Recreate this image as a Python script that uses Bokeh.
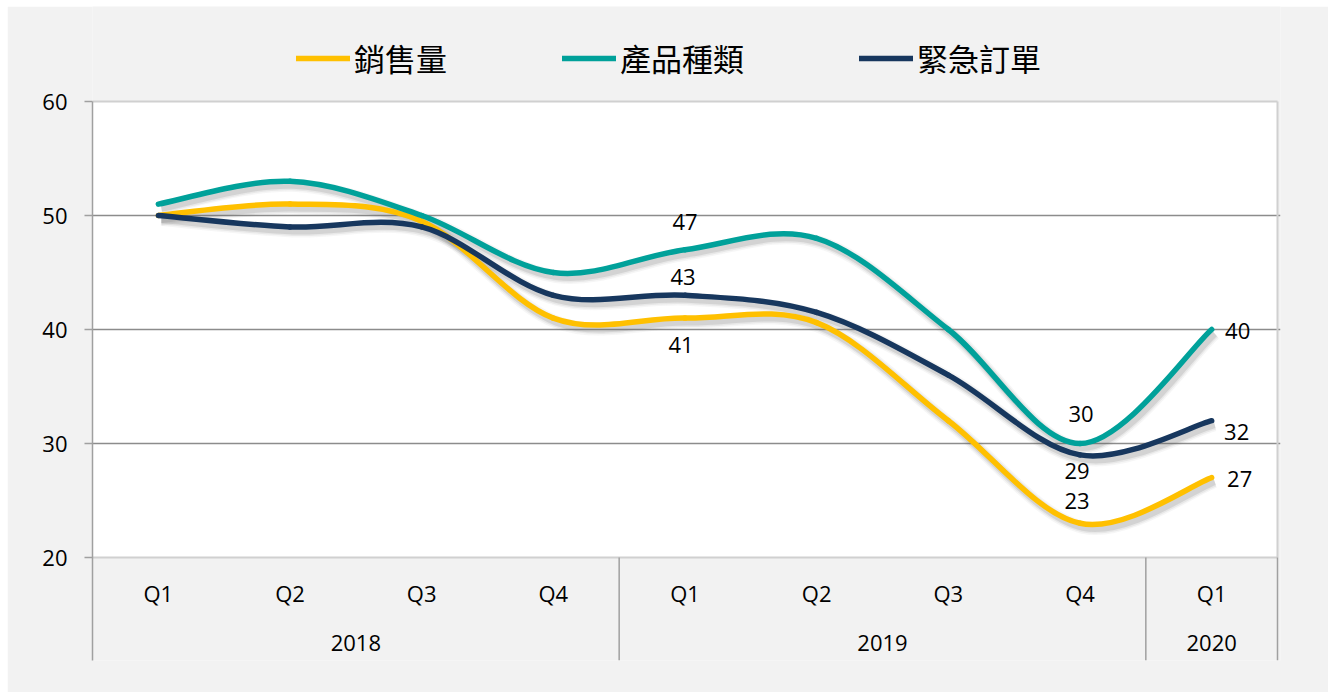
import numpy as np
from bokeh.plotting import figure
from bokeh.models import (Range1d, FixedTicker, ColumnDataSource, Legend, LegendItem,
                          Spacer)
from bokeh.layouts import row, column
from bokeh.core.properties import value
from bokeh.embed import file_html
from bokeh.resources import INLINE

# ---------------- data ----------------
years = ["2018", "2019", "2020"]
year_quarter_counts = [4, 4, 1]
quarters = ["Q1", "Q2", "Q3", "Q4", "Q1", "Q2", "Q3", "Q4", "Q1"]

series_names = ["銷售量", "產品種類", "緊急訂單"]
sales = [50, 51, 49.5, 41, 41, 40.6, 32, 23, 27]
product_types = [51, 53, 50, 45, 47, 48, 40, 30, 40]
urgent_orders = [50, 49, 49, 43, 43, 41.5, 36, 29, 32]

y_ticks = [20, 30, 40, 50, 60]
labelled_points = [4, 7, 8]  # category indices that carry data labels

# ---------------- style ----------------
COLORS = ["#FFC000", "#00A19A", "#17375E"]
FONT = "Open Sans"
CJK = "Noto Sans CJK TC"
BG = "#f2f2f2"

PX_PER_UNIT = 456 / 40.0
Y_MIN, Y_MAX = 20, 60
FIG_W, FIG_H = 1321, 686
BORDER_L, BORDER_R, BORDER_B = 85, 48, 32
frame_h = FIG_H - BORDER_B
y_top = Y_MAX + 95 / PX_PER_UNIT          # room for the legend inside the frame
y_bottom = y_top - frame_h / PX_PER_UNIT
x_right = 8.5 + 3 / (1185 / 9.0)

p = figure(width=FIG_W, height=FIG_H, output_backend="svg", toolbar_location=None,
           x_range=Range1d(-0.5, x_right), y_range=Range1d(y_bottom, y_top),
           x_axis_location=None,
           min_border_left=BORDER_L, min_border_right=BORDER_R, min_border_top=0,
           min_border_bottom=BORDER_B,
           background_fill_color=BG, border_fill_color=BG, outline_line_color=None)

# white plotting area
p.quad(left=-0.5, right=8.5, bottom=Y_MIN, top=Y_MAX, fill_color="white",
       line_color=None, level="image")

# grid
p.xgrid.visible = False
p.ygrid.ticker = FixedTicker(ticks=[t for t in y_ticks if Y_MIN < t < Y_MAX])
p.ygrid.grid_line_color = "#8c8c8c"
p.ygrid.grid_line_width = 1.5

# plot-area border (top, bottom, right)
p.segment(x0=[-0.5, -0.5, 8.5], y0=[Y_MAX, Y_MIN, Y_MIN],
          x1=[8.5, 8.5, 8.5], y1=[Y_MAX, Y_MIN, Y_MAX],
          line_color="#d0d0d0", line_width=2)

# y axis
ax = p.yaxis[0]
ax.bounds = (y_bottom, Y_MAX)
ax.ticker = FixedTicker(ticks=y_ticks)
ax.major_tick_out = 8
ax.major_tick_in = 0
ax.minor_tick_out = 0
ax.minor_tick_in = 0
ax.axis_line_color = "#a0a0a0"
ax.axis_line_width = 1.5
ax.major_tick_line_color = "#a0a0a0"
ax.major_tick_line_width = 1.5
ax.major_label_text_font = FONT
ax.major_label_text_font_size = "22px"
ax.major_label_text_color = "#000000"
ax.major_label_standoff = 17

# multi-level category axis (quarters / years)
xs = np.arange(len(quarters))
p.text(x=xs, y=[Y_MIN] * len(quarters), text=quarters, y_offset=35,
       text_align="center", text_baseline="middle", text_font=value(FONT),
       text_font_size="22px", text_color="#000000")
starts = np.cumsum([0] + year_quarter_counts[:-1])
counts = np.array(year_quarter_counts)
year_centers = starts + (counts - 1) / 2.0
separators = starts + counts - 0.5
p.text(x=year_centers, y=[Y_MIN] * len(years), text=years, y_offset=85,
       text_align="center", text_baseline="middle", text_font=value(FONT),
       text_font_size="22px", text_color="#000000")
p.segment(x0=separators, y0=[Y_MIN] * len(separators), x1=separators,
          y1=[y_bottom] * len(separators), line_color="#a0a0a0", line_width=1.5)


# ---------------- smoothed lines ----------------
def bezier_source(vals, dx=0.0, dy=0.0):
    ys = np.asarray(vals, dtype=float)
    xv = np.arange(len(ys), dtype=float)
    n = len(ys)
    d = dict(x0=[], y0=[], x1=[], y1=[], cx0=[], cy0=[], cx1=[], cy1=[])
    for i in range(n - 1):
        a, b = max(i - 1, 0), min(i + 2, n - 1)
        d["x0"].append(xv[i] + dx)
        d["y0"].append(ys[i] + dy)
        d["x1"].append(xv[i + 1] + dx)
        d["y1"].append(ys[i + 1] + dy)
        d["cx0"].append(xv[i] + (xv[i + 1] - xv[a]) / 6.0 + dx)
        d["cy0"].append(ys[i] + (ys[i + 1] - ys[a]) / 6.0 + dy)
        d["cx1"].append(xv[i + 1] - (xv[b] - xv[i]) / 6.0 + dx)
        d["cy1"].append(ys[i + 1] - (ys[b] - ys[i]) / 6.0 + dy)
    return ColumnDataSource(d)


series = [sales, product_types, urgent_orders]
shadow_dx = 3 / (1185 / 9.0)
shadow_dy = -4 / PX_PER_UNIT

items = []
for vals, col, name in zip(series, COLORS, series_names):
    for w, a in [(13, 0.06), (10, 0.09), (7, 0.15)]:
        p.bezier(x0="x0", y0="y0", x1="x1", y1="y1", cx0="cx0", cy0="cy0",
                 cx1="cx1", cy1="cy1", source=bezier_source(vals, shadow_dx, shadow_dy),
                 line_color="#606060", line_alpha=a, line_width=w)
for vals, col, name in zip(series, COLORS, series_names):
    r = p.bezier(x0="x0", y0="y0", x1="x1", y1="y1", cx0="cx0", cy0="cy0",
                 cx1="cx1", cy1="cy1", source=bezier_source(vals),
                 line_color=col, line_width=5.5, line_cap="round")
    items.append(LegendItem(label=name, renderers=[r]))

# ---------------- data labels ----------------
label_offsets = {
    (1, 4): (0, -28), (2, 4): (-2, -18), (0, 4): (-4, 27),
    (1, 7): (1, -30), (2, 7): (-3, 16), (0, 7): (-3, -22),
    (1, 8): (26, 1), (2, 8): (25, 11), (0, 8): (28, 1),
}
lx, ly, lt, lox, loy = [], [], [], [], []
for si, vals in enumerate(series):
    for idx in labelled_points:
        ox, oy = label_offsets[(si, idx)]
        lx.append(idx)
        ly.append(vals[idx])
        lt.append(f"{vals[idx]:g}")
        lox.append(ox)
        loy.append(oy)
p.text(x="x", y="y", text="t", x_offset="ox", y_offset="oy",
       source=ColumnDataSource(dict(x=lx, y=ly, t=lt, ox=lox, oy=loy)),
       text_align="center", text_baseline="middle", text_font=value(FONT),
       text_font_size="22px", text_color="#000000")

# ---------------- legend (inside the frame, above the white area) ----------------
legend = Legend(items=items, orientation="horizontal", location=(204, frame_h - 74),
                glyph_width=54, glyph_height=36, label_height=36,
                label_standoff=4, spacing=115, padding=0, margin=0,
                label_text_font=CJK, label_text_font_size="31px",
                label_text_color="#000000", label_text_baseline="middle",
                border_line_alpha=0, background_fill_alpha=0)
p.add_layout(legend, "center")

layout = row(Spacer(width=7, height=692),
             column(Spacer(width=FIG_W, height=6), p))

open("out.html", "w").write(file_html(layout, INLINE))
